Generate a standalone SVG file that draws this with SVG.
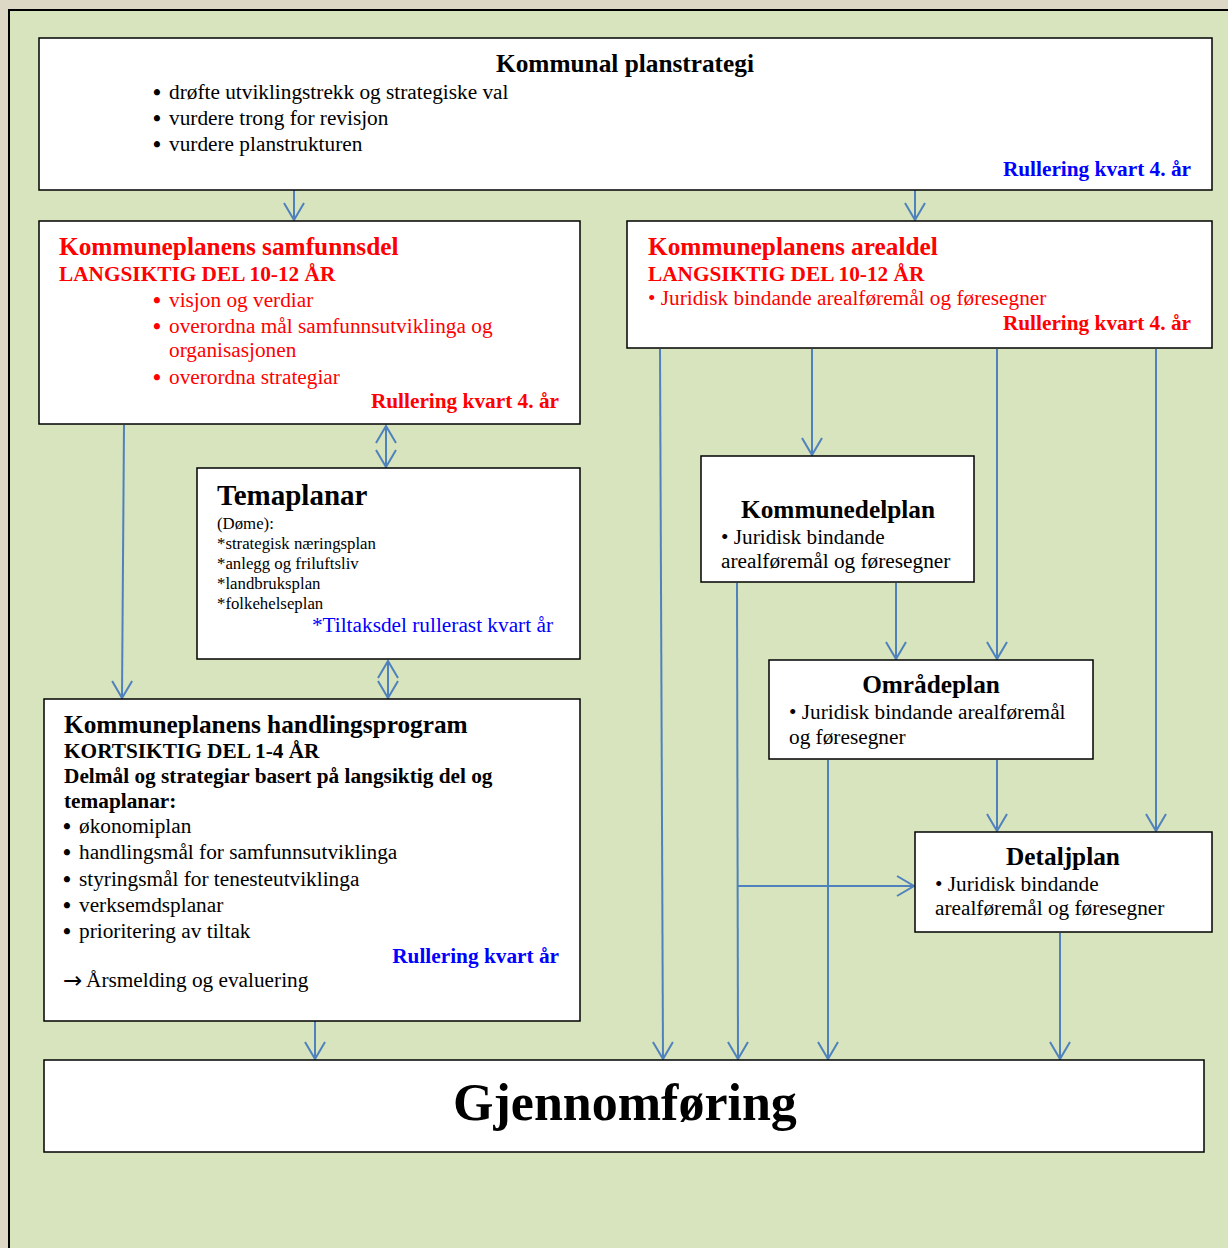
<svg xmlns="http://www.w3.org/2000/svg" width="1228" height="1248" viewBox="0 0 1228 1248">
<style>
text{font-family:"Liberation Serif","Times New Roman",serif;font-size:21.3px;fill:#000}
.b{font-weight:bold}
.t{font-weight:bold;font-size:25.3px}
.red{fill:#ff0000}
.blue{fill:#0000ff}
.sm{font-size:16.8px}
.bu{font-size:22.5px;font-weight:bold}
.box{fill:#fff;stroke:#000;stroke-width:1.5}
.c{stroke:#4f81bd;stroke-width:2;fill:none}
</style>
<defs>
<marker id="ah" markerUnits="userSpaceOnUse" viewBox="-19 -12 21 24" refX="0" refY="0" markerWidth="21" markerHeight="24" orient="auto-start-reverse">
<path d="M-17,-10 L0,0 L-17,10" fill="none" stroke="#4f81bd" stroke-width="2"/>
</marker>
</defs>
<rect x="0" y="0" width="1228" height="1248" fill="#ddd7c5"/>
<rect x="9" y="10" width="1230" height="1250" fill="#d7e4bd" stroke="#000" stroke-width="2"/>

<g id="connectors">
<line class="c" x1="294" y1="185" x2="294" y2="220" marker-end="url(#ah)"/>
<line class="c" x1="915" y1="185" x2="915" y2="220" marker-end="url(#ah)"/>
<line class="c" x1="124" y1="425" x2="122" y2="698" marker-end="url(#ah)"/>
<line class="c" x1="386" y1="426" x2="386" y2="467" marker-start="url(#ah)" marker-end="url(#ah)"/>
<line class="c" x1="388" y1="661" x2="388" y2="698" marker-start="url(#ah)" marker-end="url(#ah)"/>
<line class="c" x1="315" y1="1021" x2="315" y2="1059" marker-end="url(#ah)"/>
<line class="c" x1="660" y1="349" x2="663" y2="1059" marker-end="url(#ah)"/>
<line class="c" x1="812" y1="349" x2="812" y2="455" marker-end="url(#ah)"/>
<line class="c" x1="997" y1="349" x2="997" y2="659" marker-end="url(#ah)"/>
<line class="c" x1="1156" y1="349" x2="1156" y2="831" marker-end="url(#ah)"/>
<line class="c" x1="737" y1="583" x2="738" y2="1059" marker-end="url(#ah)"/>
<line class="c" x1="737" y1="886" x2="914" y2="886" marker-end="url(#ah)"/>
<line class="c" x1="896" y1="583" x2="896" y2="659" marker-end="url(#ah)"/>
<line class="c" x1="828" y1="760" x2="828" y2="1059" marker-end="url(#ah)"/>
<line class="c" x1="997" y1="760" x2="997" y2="831" marker-end="url(#ah)"/>
<line class="c" x1="1060" y1="933" x2="1060" y2="1059" marker-end="url(#ah)"/>
</g>

<g id="planstrategi">
<rect class="box" x="39" y="38" width="1173" height="152"/>
<text class="t" x="625" y="72" text-anchor="middle">Kommunal planstrategi</text>
<text class="bu" x="153" y="100">•</text><text x="169" y="99">drøfte utviklingstrekk og strategiske val</text>
<text class="bu" x="153" y="126">•</text><text x="169" y="125">vurdere trong for revisjon</text>
<text class="bu" x="153" y="152">•</text><text x="169" y="151">vurdere planstrukturen</text>
<text class="b blue" x="1191" y="176" text-anchor="end">Rullering kvart 4. år</text>
</g>

<g id="samfunnsdel">
<rect class="box" x="39" y="221" width="541" height="203"/>
<text class="t red" x="59" y="255">Kommuneplanens samfunnsdel</text>
<text class="b red" x="59" y="281">LANGSIKTIG DEL 10-12 ÅR</text>
<text class="bu red" x="153" y="308">•</text><text class="red" x="169" y="307">visjon og verdiar</text>
<text class="bu red" x="153" y="334">•</text><text class="red" x="169" y="333">overordna mål samfunnsutviklinga og</text>
<text class="red" x="169" y="357">organisasjonen</text>
<text class="bu red" x="153" y="385">•</text><text class="red" x="169" y="384">overordna strategiar</text>
<text class="b red" x="559" y="408" text-anchor="end">Rullering kvart 4. år</text>
</g>

<g id="arealdel">
<rect class="box" x="627" y="221" width="585" height="127"/>
<text class="t red" x="648" y="255">Kommuneplanens arealdel</text>
<text class="b red" x="648" y="281">LANGSIKTIG DEL 10-12 ÅR</text>
<text class="red" x="648" y="305">• Juridisk bindande arealføremål og føresegner</text>
<text class="b red" x="1191" y="330" text-anchor="end">Rullering kvart 4. år</text>
</g>

<g id="temaplanar">
<rect class="box" x="197" y="468" width="383" height="191"/>
<text class="b" x="217" y="505" style="font-size:29px">Temaplanar</text>
<text class="sm" x="217" y="529">(Døme):</text>
<text class="sm" x="217" y="549">*strategisk næringsplan</text>
<text class="sm" x="217" y="569">*anlegg og friluftsliv</text>
<text class="sm" x="217" y="589">*landbruksplan</text>
<text class="sm" x="217" y="609">*folkehelseplan</text>
<text class="blue" x="553" y="632" text-anchor="end">*Tiltaksdel rullerast kvart år</text>
</g>

<g id="handlingsprogram">
<rect class="box" x="44" y="699" width="536" height="322"/>
<text class="t" x="64" y="733">Kommuneplanens handlingsprogram</text>
<text class="b" x="64" y="758">KORTSIKTIG DEL 1-4 ÅR</text>
<text class="b" x="64" y="783">Delmål og strategiar basert på langsiktig del og</text>
<text class="b" x="64" y="808">temaplanar:</text>
<text class="bu" x="63" y="834">•</text><text x="79" y="833">økonomiplan</text>
<text class="bu" x="63" y="860">•</text><text x="79" y="859">handlingsmål for samfunnsutviklinga</text>
<text class="bu" x="63" y="887">•</text><text x="79" y="886">styringsmål for tenesteutviklinga</text>
<text class="bu" x="63" y="913">•</text><text x="79" y="912">verksemdsplanar</text>
<text class="bu" x="63" y="939">•</text><text x="79" y="938">prioritering av tiltak</text>
<text class="b blue" x="559" y="963" text-anchor="end">Rullering kvart år</text>
<text x="63" y="988" style="font-family:'DejaVu Sans',sans-serif;font-size:23px">→</text>
<text x="86" y="987">Årsmelding og evaluering</text>
</g>

<g id="kommunedelplan">
<rect class="box" x="701" y="456" width="273" height="126"/>
<text class="t" x="838" y="518" text-anchor="middle">Kommunedelplan</text>
<text x="721" y="544">• Juridisk bindande</text>
<text x="721" y="568">arealføremål og føresegner</text>
</g>

<g id="omradeplan">
<rect class="box" x="769" y="660" width="324" height="99"/>
<text class="t" x="931" y="693" text-anchor="middle">Områdeplan</text>
<text x="789" y="719">• Juridisk bindande arealføremål</text>
<text x="789" y="744">og føresegner</text>
</g>

<g id="detaljplan">
<rect class="box" x="915" y="832" width="297" height="100"/>
<text class="t" x="1063" y="865" text-anchor="middle">Detaljplan</text>
<text x="935" y="891">• Juridisk bindande</text>
<text x="935" y="915">arealføremål og føresegner</text>
</g>

<g id="gjennomforing">
<rect class="box" x="44" y="1060" width="1160" height="92"/>
<text class="b" x="625" y="1120" text-anchor="middle" style="font-size:52px">Gjennomføring</text>
</g>
</svg>
